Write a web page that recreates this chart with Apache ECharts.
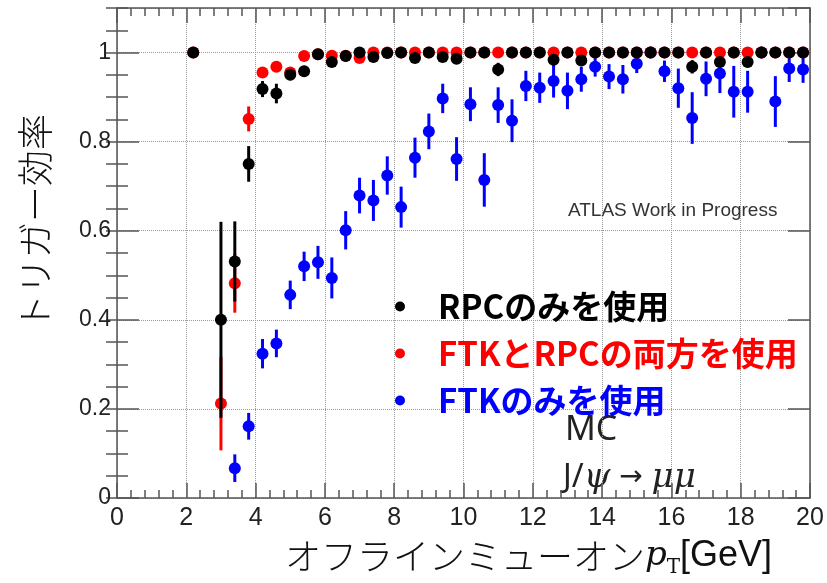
<!DOCTYPE html>
<html>
<head>
<meta charset="utf-8">
<script src="https://cdn.jsdelivr.net/npm/echarts@6/dist/echarts.min.js"></script>
<style>
  html, body { margin: 0; padding: 0; background: #fff; }
  #chart { width: 827px; height: 583px; }
</style>
</head>
<body>
<div id="chart"></div>
<script>
// ビン中心 (GeV)
const ptBins = [2.2, 3.0, 3.4, 3.8, 4.2, 4.6, 5.0, 5.4, 5.8, 6.2, 6.6, 7.0, 7.4, 7.8, 8.2, 8.6, 9.0, 9.4, 9.8, 10.2,
  10.6, 11.0, 11.4, 11.8, 12.2, 12.6, 13.0, 13.4, 13.8, 14.2, 14.6, 15.0, 15.4, 15.8, 16.2, 16.6, 17.0, 17.4, 17.8, 18.2,
  18.6, 19.0, 19.4, 19.8];

// RPCのみ
const rpcOnly = [1.0, 0.40, 0.531, 0.75, 0.918, 0.908, 0.95, 0.958, 0.996, 0.979,
  0.992, 1.0, 0.99, 0.999, 1.0, 0.988, 1.0, 0.99, 0.986, 1.0,
  1.0, 0.962, 1.0, 1.0, 1.0, 0.984, 1.0, 0.982, 1.0, 1.0,
  1.0, 1.0, 1.0, 1.0, 1.0, 0.968, 1.0, 0.979, 1.0, 0.979,
  1.0, 1.0, 1.0, 1.0];
const rpcErr = [0, 0.22, 0.09, 0.04, 0.018, 0.022, 0.012, 0.012, 0.005, 0.008,
  0.006, 0, 0.008, 0.002, 0, 0.008, 0, 0.008, 0.01, 0,
  0, 0.015, 0, 0, 0, 0.01, 0, 0.012, 0, 0,
  0, 0, 0, 0, 0, 0.015, 0, 0.012, 0, 0.012,
  0, 0, 0, 0];

// FTKとRPCの両方
const ftkRpc = [1.0, 0.212, 0.482, 0.851, 0.955, 0.968, 0.955, 0.992, 0.996, 0.993,
  0.993, 0.988, 1.0, 1.0, 1.0, 1.0, 1.0, 1.0, 1.0, 1.0,
  1.0, 1.0, 1.0, 1.0, 1.0, 1.0, 1.0, 1.0, 1.0, 1.0,
  1.0, 1.0, 1.0, 1.0, 1.0, 1.0, 1.0, 1.0, 1.0, 1.0,
  1.0, 1.0, 1.0, 1.0];
const ftkRpcErr = [0, 0.105, 0.066, 0.028, 0.012, 0.01, 0.012, 0.005, 0.003, 0.005,
  0.005, 0.006, 0, 0, 0, 0, 0, 0, 0, 0,
  0, 0, 0, 0, 0, 0, 0, 0, 0, 0,
  0, 0, 0, 0, 0, 0, 0, 0, 0, 0,
  0, 0, 0, 0];

// FTKのみ
const ftkOnly = [null, null, 0.067, 0.161, 0.324, 0.347, 0.456, 0.52, 0.529, 0.494,
  0.601, 0.679, 0.668, 0.724, 0.653, 0.764, 0.823, 0.897, 0.761, 0.884,
  0.714, 0.882, 0.847, 0.925, 0.921, 0.936, 0.914, 0.94, 0.968, 0.946,
  0.94, 0.975, 1.0, 0.958, 0.92, 0.853, 0.941, 0.953, 0.912, 0.912,
  1.0, 0.89, 0.964, 0.962];
const ftkErr = [null, null, 0.031, 0.03, 0.033, 0.031, 0.032, 0.033, 0.037, 0.046,
  0.043, 0.04, 0.046, 0.043, 0.046, 0.045, 0.04, 0.033, 0.049, 0.038,
  0.06, 0.04, 0.048, 0.034, 0.034, 0.037, 0.041, 0.028, 0.022, 0.028,
  0.032, 0.021, 0, 0.024, 0.044, 0.058, 0.039, 0.044, 0.058, 0.047,
  0, 0.057, 0.03, 0.03];

const seriesNames = ['RPCのみを使用', 'FTKとRPCの両方を使用', 'FTKのみを使用'];
const seriesColors = ['#000000', '#ff0000', '#0000ff'];

const chart = echarts.init(document.getElementById('chart'));

// 点とエラーバーのシリーズを作る
const makeSeries = (name, values, errs, color, z) => {
  const pts = [];
  const bars = [];
  ptBins.forEach((x, i) => {
    if (values[i] == null) return;
    pts.push([x, values[i]]);
    bars.push([x, values[i] - errs[i], Math.min(1, values[i] + errs[i])]);
  });
  return [
    {
      name: name + '_err',
      type: 'custom',
      z: z,
      silent: true,
      data: bars,
      encode: { x: 0, y: [1, 2] },
      renderItem: (params, api) => {
        const p1 = api.coord([api.value(0), api.value(1)]);
        const p2 = api.coord([api.value(0), api.value(2)]);
        return {
          type: 'line',
          shape: { x1: p1[0], y1: p1[1], x2: p2[0], y2: p2[1] },
          style: { stroke: color, lineWidth: 3 }
        };
      }
    },
    {
      name: name,
      type: 'scatter',
      z: z + 1,
      symbol: 'circle',
      symbolSize: 12,
      itemStyle: { color: color, opacity: 1 },
      data: pts
    }
  ];
};

const frameColor = '#555';
const tickStyle = { color: frameColor, width: 1.5 };

const option = {
  backgroundColor: '#fff',
  animation: false,
  grid: { left: 117, right: 17, top: 8, bottom: 80, containLabel: false },
  legend: {
    orient: 'vertical',
    left: 390,
    top: 285,
    itemGap: 14,
    itemWidth: 10,
    itemHeight: 10,
    icon: 'circle',
    selectedMode: false,
    itemStyle: { opacity: 1 },
    textStyle: {
      fontFamily: 'Noto Sans CJK JP',
      fontWeight: 'bold',
      fontSize: 33,
      lineHeight: 32,
      padding: [0, 0, 0, 28]
    },
    data: seriesNames.map((n, i) => ({ name: n, textStyle: { color: seriesColors[i] } }))
  },
  xAxis: [
    {
      type: 'value', position: 'bottom', min: 0, max: 20, interval: 2,
      axisLine: { show: true, onZero: false, lineStyle: { color: frameColor, width: 1.5 } },
      axisTick: { show: true, inside: true, length: 15, lineStyle: tickStyle },
      minorTick: { show: true, splitNumber: 5, length: 8, lineStyle: tickStyle },
      axisLabel: { fontFamily: 'Liberation Sans Narrow, Liberation Sans', fontSize: 25, color: '#222', margin: 8 },
      splitLine: { show: true, lineStyle: { type: 'dotted', color: '#999', width: 1 } },
      name: '{jp|オフラインミューオン}{p|p}{sub|T}{u|[GeV]}',
      nameLocation: 'middle',
      nameGap: 36,
      nameTextStyle: {
        padding: [0, 0, 0, 130],
        rich: {
          jp: { fontFamily: 'Noto Sans CJK JP', fontWeight: 300, fontSize: 36, color: '#111', lineHeight: 44 },
          p: { fontFamily: 'DejaVu Serif', fontStyle: 'italic', fontSize: 34, color: '#111', lineHeight: 44 },
          sub: { fontFamily: 'DejaVu Serif', fontSize: 20, color: '#111', verticalAlign: 'bottom', lineHeight: 44, padding: [14, 0, 0, 0] },
          u: { fontFamily: 'Liberation Sans Narrow, Liberation Sans', fontSize: 36, color: '#111', lineHeight: 44 }
        }
      }
    },
    {
      type: 'value', position: 'top', min: 0, max: 20, interval: 2,
      axisLine: { show: true, onZero: false, lineStyle: { color: frameColor, width: 1.5 } },
      axisTick: { show: true, inside: true, length: 15, lineStyle: tickStyle },
      minorTick: { show: true, splitNumber: 5, length: 8, lineStyle: tickStyle },
      axisLabel: { show: false },
      splitLine: { show: false }
    }
  ],
  yAxis: [
    {
      type: 'value', position: 'left', min: 0, max: 1.1, interval: 0.2,
      axisLine: { show: true, onZero: false, lineStyle: { color: frameColor, width: 1.5 } },
      axisTick: { show: true, inside: true, length: 22, lineStyle: tickStyle },
      axisLabel: {
        fontFamily: 'Liberation Sans', fontSize: 23, color: '#222', margin: 6,
        showMaxLabel: false,
        formatter: v => (v === 0 ? '0' : v === 1 ? '1' : v.toFixed(1))
      },
      splitLine: { show: true, lineStyle: { type: 'dotted', color: '#999', width: 1 } },
      name: 'トリガー効率',
      nameLocation: 'middle',
      nameRotate: 90,
      nameGap: 64,
      nameTextStyle: {
        fontFamily: 'Noto Sans CJK JP', fontWeight: 300, fontSize: 36, color: '#111',
        padding: [0, 0, 0, 62]
      }
    },
    {
      type: 'value', position: 'right', min: 0, max: 1.1, interval: 0.2,
      axisLine: { show: true, onZero: false, lineStyle: { color: frameColor, width: 1.5 } },
      axisTick: { show: true, inside: true, length: 22, lineStyle: tickStyle },
      axisLabel: { show: false },
      splitLine: { show: false }
    },
    {
      // 副目盛り (左)
      type: 'value', position: 'left', min: 0, max: 1.1, interval: 0.05,
      axisLine: { show: false },
      axisTick: { show: true, inside: true, length: 11, lineStyle: tickStyle },
      axisLabel: { show: false },
      splitLine: { show: false }
    },
    {
      // 副目盛り (右)
      type: 'value', position: 'right', min: 0, max: 1.1, interval: 0.05,
      axisLine: { show: false },
      axisTick: { show: true, inside: true, length: 11, lineStyle: tickStyle },
      axisLabel: { show: false },
      splitLine: { show: false }
    }
  ],
  graphic: [
    {
      type: 'text', left: 568, top: 201,
      style: { text: 'ATLAS Work in Progress', fontFamily: 'Liberation Sans', fontSize: 19, fill: '#333' }
    },
    {
      type: 'text', left: 565, top: 413,
      style: { text: 'MC', fontFamily: 'Noto Sans', fontSize: 34, fill: '#222' }
    },
    {
      type: 'text', left: 563, top: 461,
      style: {
        text: '{r|J/}{i|\u03c8}{a| \u2192 }{i|\u03bc\u03bc}',
        rich: {
          r: { fontFamily: 'Noto Sans', fontSize: 32, fill: '#222', lineHeight: 40 },
          a: { fontFamily: 'DejaVu Sans', fontSize: 28, fill: '#222', lineHeight: 40 },
          i: { fontFamily: 'DejaVu Serif', fontStyle: 'italic', fontSize: 34, fill: '#222', lineHeight: 40 }
        }
      }
    }
  ],
  series: [
    ...makeSeries(seriesNames[2], ftkOnly, ftkErr, seriesColors[2], 2),
    ...makeSeries(seriesNames[1], ftkRpc, ftkRpcErr, seriesColors[1], 4),
    ...makeSeries(seriesNames[0], rpcOnly, rpcErr, seriesColors[0], 6)
  ]
};

chart.setOption(option);
</script>
</body>
</html>
